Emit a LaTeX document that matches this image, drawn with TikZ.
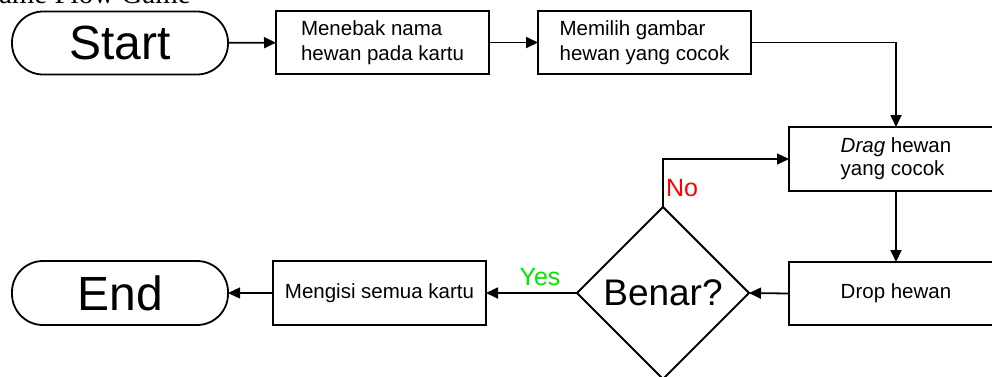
\documentclass[tikz,border=0pt]{standalone}
\usepackage{fontspec}
\setmainfont{Liberation Sans}
\newfontfamily\titlefont{Liberation Serif}
\usetikzlibrary{shapes.geometric,arrows.meta}
\definecolor{nored}{RGB}{255,0,0}
\definecolor{yesgreen}{RGB}{0,230,0}
\begin{document}
\begin{tikzpicture}[x=1pt,y=-1pt,
  every node/.style={outer sep=0pt},
  pill/.style={draw,line width=1.8pt,rounded corners=31pt,minimum width=216pt,minimum height=63pt,inner sep=0pt,font=\fontsize{48}{52}\selectfont},
  box/.style={draw,line width=1.8pt,minimum width=213pt,minimum height=63pt,inner sep=0pt,align=left,font=\fontsize{20.5}{24.5}\selectfont},
  decision/.style={draw,line width=1.8pt,diamond,aspect=1,minimum width=172pt,minimum height=172pt,inner sep=0pt,font=\fontsize{37}{40}\selectfont},
  conn/.style={line width=1.8pt,-{Triangle[length=12pt,width=11pt]}},
  thinconn/.style={line width=1.3pt,-{Triangle[length=12pt,width=11pt]}},
  lbl/.style={font=\fontsize{25}{28}\selectfont,inner sep=0pt}]
\useasboundingbox (0,0) rectangle (992,376);
\clip (0,0) rectangle (992,376);
\node[anchor=base west,inner sep=0pt,font=\titlefont\fontsize{29}{32}\selectfont] (title) at (-1,3) {ame Flow Game};
\node[pill] (start) at (120,43) {Start};
\node[box] (b1) at (382.5,42.5) {Menebak nama\\hewan pada kartu};
\node[box] (b2) at (644.5,42.5) {Memilih gambar\\hewan yang cocok};
\node[box,minimum width=214pt,minimum height=64pt,font=\fontsize{20.5}{23}\selectfont] (drag) at (896,159) {\textit{Drag} hewan\\yang cocok};
\node[box,minimum width=214pt] (drop) at (896,293.5) {Drop hewan};
\node[decision] (dia) at (663,293) {Benar?};
\node[box,minimum height=64pt] (fill) at (379.5,293) {Mengisi semua kartu};
\node[pill,minimum height=64pt] (end) at (120,293) {End};
\draw[conn] (start) -- (b1);
\draw[conn] (b1) -- (b2);
\draw[conn] (b2.east) -| (drag.north);
\draw[conn] (drag) -- (drop);
\draw[conn] (drop.west) -- (dia.east);
\draw[thinconn] (dia.north) |- (drag.west);
\draw[conn] (dia.west) -- (fill.east);
\draw[thinconn] (fill.west) -- (end.east);
\node[lbl,text=nored,anchor=south west] (no) at (666,197) {No};
\node[lbl,text=yesgreen] (yes) at (540,277) {Yes};
\end{tikzpicture}
\end{document}
